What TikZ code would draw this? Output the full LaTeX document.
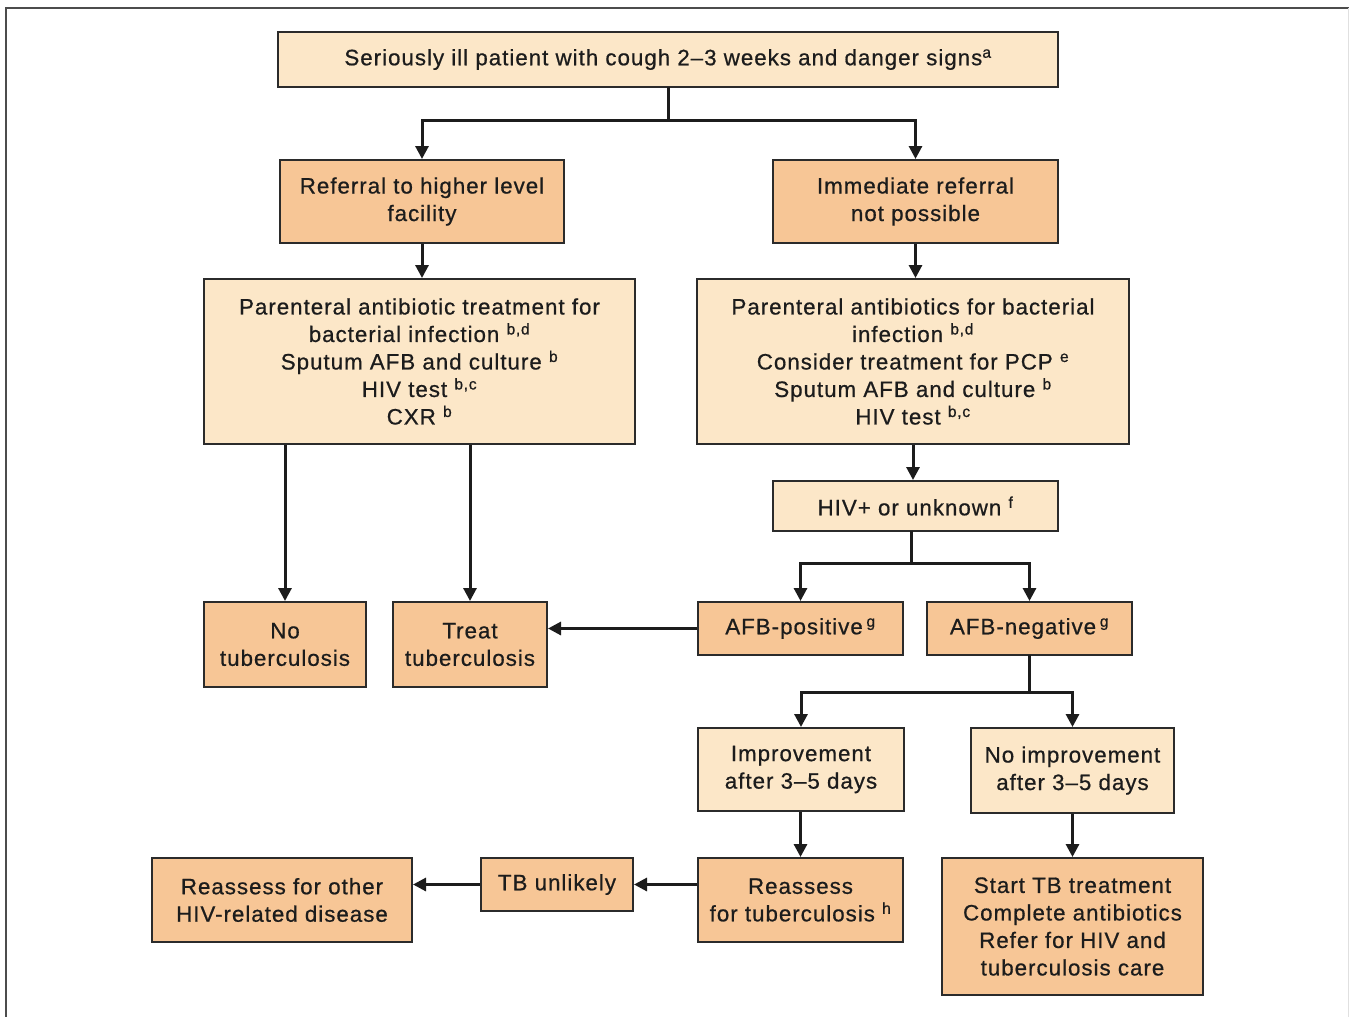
\documentclass[tikz,border=0pt]{standalone}
\usepackage{fontspec}
\setmainfont[LetterSpace=4.5,FakeBold=0.7]{Liberation Sans}
\usetikzlibrary{arrows.meta}
\definecolor{lightfill}{HTML}{FCE7C8}
\definecolor{darkfill}{HTML}{F7C696}
\definecolor{edgecol}{HTML}{2B2B2B}
\definecolor{inkcol}{HTML}{1C1C1C}
\begin{document}
\begin{tikzpicture}[x=1pt,y=-1pt,
  box/.style={draw=edgecol, line width=2pt, inner sep=0pt, align=center,
    font=\fontsize{22.3}{27.5}\selectfont, text=inkcol},
  lbox/.style={box, fill=lightfill},
  dbox/.style={box, fill=darkfill},
  wire/.style={line width=3pt, draw=inkcol, line cap=rect},
  conn/.style={line width=3pt, draw=inkcol, -{Triangle[length=13pt,width=13pt]}},
]
\useasboundingbox (0,0) rectangle (1349,1017);
\fill[white] (0,0) rectangle (1349,1017);
\draw[line width=2pt, black!70] (6,1017) -- (6,8) -- (1349,8);
\draw[line width=1pt, black!12] (1348,8) -- (1348,1017);

\node[lbox, minimum width=780, minimum height=55] (top) at (668,59.5)
  {Seriously ill patient with cough 2–3 weeks and danger signs\textsuperscript{a}};
\node[dbox, minimum width=284, minimum height=83] (ref) at (422,201.5)
  {Referral to higher level\\facility};
\node[dbox, minimum width=285, minimum height=83] (imm) at (915.5,201.5)
  {Immediate referral\\not possible};
\node[lbox, minimum width=431, minimum height=165] (parL) at (419.5,361.5)
  {Parenteral antibiotic treatment for\\bacterial infection \textsuperscript{b,d}\\Sputum AFB and culture \textsuperscript{b}\\HIV test \textsuperscript{b,c}\\CXR \textsuperscript{b}};
\node[lbox, minimum width=432, minimum height=165] (parR) at (913,361.5)
  {Parenteral antibiotics for bacterial\\infection \textsuperscript{b,d}\\Consider treatment for PCP \textsuperscript{e}\\Sputum AFB and culture \textsuperscript{b}\\HIV test \textsuperscript{b,c}};
\node[lbox, minimum width=285, minimum height=50] (hiv) at (915.5,506)
  {HIV+ or unknown \textsuperscript{f}};
\node[dbox, minimum width=162, minimum height=85] (notb) at (285,644.5)
  {No\\tuberculosis};
\node[dbox, minimum width=154, minimum height=85] (treat) at (470,644.5)
  {Treat\\tuberculosis};
\node[dbox, minimum width=205, minimum height=53] (afbp) at (800.5,628.5)
  {AFB-positive\,\textsuperscript{g}};
\node[dbox, minimum width=205, minimum height=53] (afbn) at (1029.5,628.5)
  {AFB-negative\,\textsuperscript{g}};
\node[lbox, minimum width=206, minimum height=83] (impr) at (801,769.5)
  {Improvement\\after 3–5 days};
\node[lbox, minimum width=203, minimum height=85] (noimpr) at (1072.5,770.5)
  {No improvement\\after 3–5 days};
\node[dbox, minimum width=260, minimum height=84] (reoth) at (282,900)
  {Reassess for other\\HIV-related disease};
\node[dbox, minimum width=152, minimum height=53] (tbun) at (557,884.5)
  {TB unlikely};
\node[dbox, minimum width=205, minimum height=84] (retb) at (800.5,900)
  {Reassess\\for tuberculosis \textsuperscript{h}};
\node[dbox, minimum width=261, minimum height=137] (start) at (1072.5,926.5)
  {Start TB treatment\\Complete antibiotics\\Refer for HIV and\\tuberculosis care};

% connectors
\coordinate (j1) at (668,120);
\draw[wire] (top.south) -- (j1);
\draw[conn] (j1) -| (ref.north);
\draw[conn] (j1) -| (imm.north);
\draw[conn] (ref.south) -- (ref.south |- parL.north);
\draw[conn] (imm.south) -- (imm.south |- parR.north);
\draw[conn] (parL.south -| notb.north) -- (notb.north);
\draw[conn] (parL.south -| treat.north) -- (treat.north);
\draw[conn] (parR.south) -- (parR.south |- hiv.north);
\coordinate (j2) at (911,563);
\draw[wire] (hiv.south -| j2) -- (j2);
\draw[conn] (j2) -| (afbp.north);
\draw[conn] (j2) -| (afbn.north);
\draw[conn] (afbp.west) -- (afbp.west -| treat.east);
\coordinate (j3) at (1029.5,692);
\draw[wire] (afbn.south) -- (j3);
\draw[conn] (j3) -| (impr.north);
\draw[conn] (j3) -| (noimpr.north);
\draw[conn] (impr.south -| retb.north) -- (retb.north);
\draw[conn] (noimpr.south) -- (noimpr.south |- start.north);
\draw[conn] (retb.west |- tbun.east) -- (tbun.east);
\draw[conn] (tbun.west) -- (tbun.west -| reoth.east);
\end{tikzpicture}
\end{document}
